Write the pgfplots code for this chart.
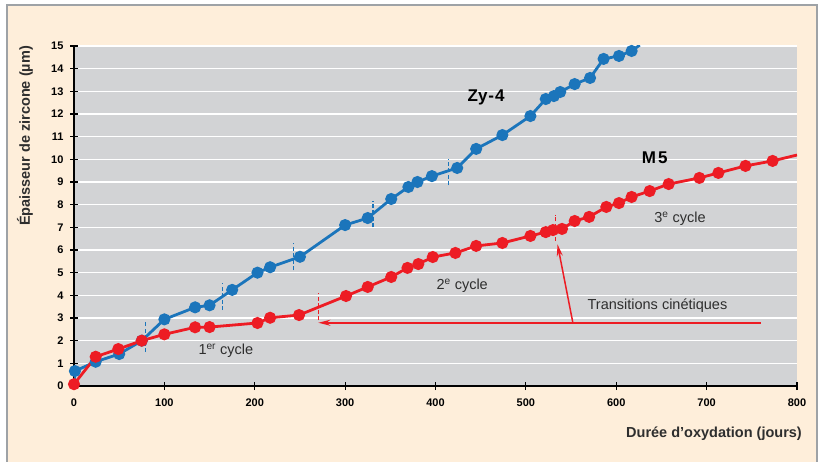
\documentclass[border=0pt]{standalone}
\usepackage{fontspec}
\setmainfont{Liberation Sans}
\usepackage{pgfplots}
\pgfplotsset{compat=1.18}
\usetikzlibrary{arrows.meta}

\definecolor{cream}{HTML}{FEEEDA}
\definecolor{framegray}{HTML}{9EA2A6}
\definecolor{plotgray}{HTML}{D2D3D5}
\definecolor{zyblue}{HTML}{1B75BB}
\definecolor{mred}{HTML}{ED1C24}
\definecolor{textgray}{HTML}{2E2E2E}

\begin{document}
\begin{tikzpicture}[x=1pt,y=1pt]
\path[use as bounding box] (0,0) rectangle (819,-462);
\fill[white] (0,0) rectangle (819,-462);
\filldraw[fill=cream, draw=framegray, line width=1.2pt] (7,-5) rectangle (817,-480);

\begin{axis}[
    at={(74pt,-386pt)}, anchor=south west,
    scale only axis, width=723pt, height=340pt,
    xmin=0, xmax=800, ymin=0, ymax=15,
    xtick={0,100,...,800},
    ytick={0,1,...,15},
    axis x line=bottom, axis y line=left,
    axis line style={-, line width=1.6pt, black},
    axis background/.style={fill=plotgray},
    ymajorgrids=true,
    grid style={white, line width=1.6pt},
    tick align=center,
    major tick length=8pt,
    every tick/.style={black, line width=1.2pt},
    tick label style={font=\fontsize{11}{13}\selectfont\bfseries},
    /pgf/number format/assume math mode=true,
    xticklabel style={yshift=-5pt},
    yticklabel style={xshift=-3pt},
    transition/.style={line width=1.4pt, dash pattern=on 4pt off 2.5pt},
]

% Zy-4
\addplot[zyblue, line width=2.8pt, mark=*, mark size=4.6pt,
    mark indices={2,3,4,5,6,7,8,9,10,11,12,13,14,15,16,17,18,19,20,21,22,23,24,25,26,27,28,29,30}]
    coordinates {
    (0,0.1)(1,0.66)(24,1.07)(50,1.41)(75,2.0)(100,2.94)(134,3.47)(150,3.56)
    (175,4.24)(203,5.0)(217,5.24)(250,5.7)(300,7.1)(325,7.41)(351,8.25)
    (370,8.78)(380,9.0)(396,9.26)(424,9.62)(445,10.46)(474,11.07)(505,11.91)
    (522,12.66)(531,12.79)(538,12.97)(554,13.32)(571,13.59)(586,14.43)
    (603,14.56)(617,14.78)(626,15.04)
    };

% M5
\addplot[mred, line width=2.8pt, mark=*, mark size=4.6pt,
    mark indices={1,2,3,4,5,6,7,8,9,10,11,12,13,14,15,16,17,18,19,20,21,22,23,24,25,26,27,28,29,30,31,32,33,34}]
    coordinates {
    (0,0.08)(24,1.29)(49,1.63)(75,2.0)(100,2.28)(134,2.59)(150,2.6)
    (203,2.78)(217,3.01)(249,3.13)(301,3.97)(325,4.37)(351,4.81)(369,5.21)
    (381,5.38)(397,5.69)(422,5.87)(445,6.18)(474,6.31)(505,6.62)(522,6.79)
    (530,6.88)(540,6.93)(554,7.28)(570,7.46)(589,7.9)(603,8.07)(617,8.34)
    (637,8.6)(658,8.91)(692,9.18)(713,9.4)(743,9.71)(773,9.93)(800,10.19)
    };

% transitions
\addplot[zyblue, transition] coordinates {(79,1.5)(79,2.85)};
\addplot[zyblue, transition] coordinates {(164.5,3.35)(164.5,4.55)};
\addplot[zyblue, transition] coordinates {(243,5.1)(243,6.3)};
\addplot[zyblue, transition] coordinates {(331,7.0)(331,8.15)};
\addplot[zyblue, transition] coordinates {(414.6,8.85)(414.6,10.0)};
\addplot[mred, transition] coordinates {(270.4,2.9)(270.4,4.1)};
\addplot[mred, transition] coordinates {(533,6.4)(533,7.55)};

\draw[mred, line width=1.5pt, -{Stealth[length=12pt,width=6pt]}] (axis cs:760,2.79) -- (axis cs:270.4,2.79);
\draw[mred, line width=1.5pt, -{Stealth[length=12pt,width=6pt]}] (axis cs:552,2.79) -- (axis cs:535,6.25);

\node[font=\fontsize{17}{19}\selectfont\bfseries] at (axis cs:456,12.73) {Zy\kern1pt-\kern1pt4};
\node[font=\fontsize{17}{19}\selectfont\bfseries] at (axis cs:642.5,10.08) {M\kern2pt5};
\node[font=\fontsize{14.5}{16}\selectfont, text=textgray, anchor=base, inner sep=0pt] at (axis cs:168,1.37) {1\textsuperscript{er} cycle};
\node[font=\fontsize{14.5}{16}\selectfont, text=textgray, anchor=base, inner sep=0pt] at (axis cs:429.5,4.24) {2\textsuperscript{e} cycle};
\node[font=\fontsize{14.5}{16}\selectfont, text=textgray, anchor=base, inner sep=0pt] at (axis cs:670.5,7.2) {3\textsuperscript{e} cycle};
\node[font=\fontsize{14.5}{16}\selectfont, text=textgray, anchor=base, inner sep=0pt] at (axis cs:645.6,3.38) {Transitions cinétiques};
\end{axis}

\node[font=\fontsize{14.5}{16}\selectfont\bfseries, text=textgray, anchor=base east, inner sep=0pt] at (802,-437) {Durée d’oxydation (jours)};
\node[font=\fontsize{14.5}{16}\selectfont\bfseries, text=textgray, rotate=90, inner sep=0pt] at (25,-136) {Épaisseur de zircone (µm)};
\end{tikzpicture}
\end{document}
